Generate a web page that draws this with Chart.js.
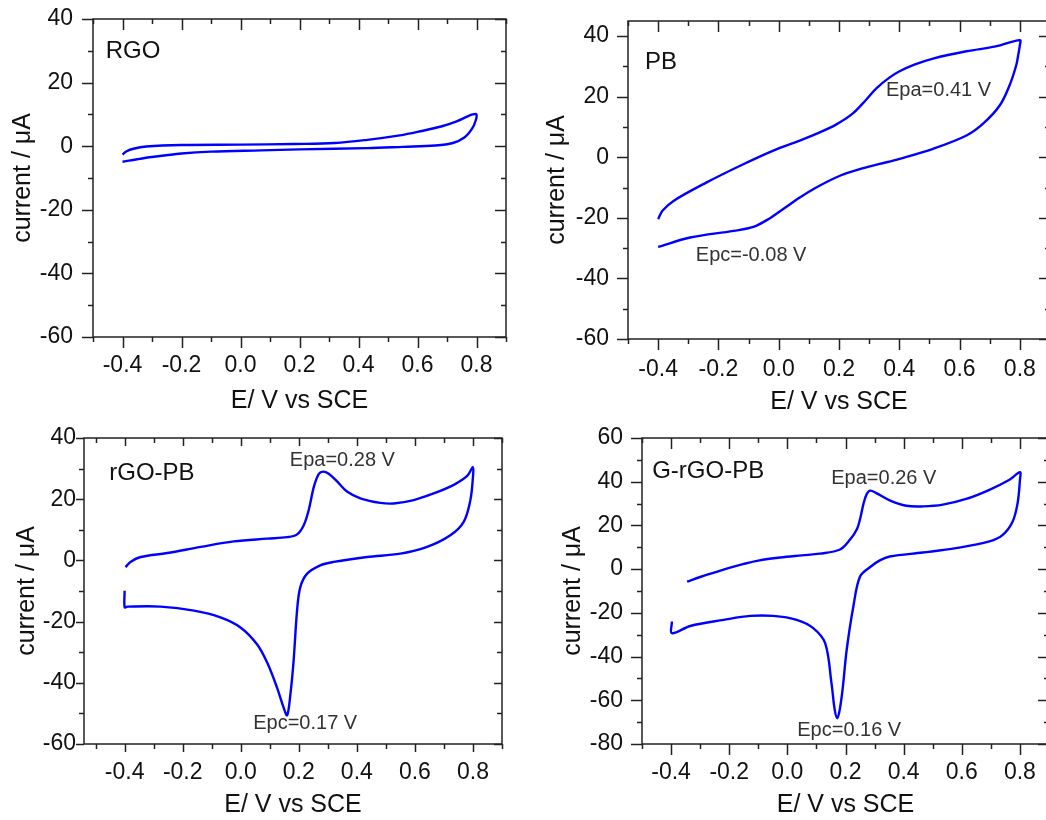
<!DOCTYPE html>
<html>
<head>
<meta charset="utf-8">
<script src="https://cdn.jsdelivr.net/npm/chart.js@4.4.0/dist/chart.umd.min.js"></script>
<style>
html, body { margin: 0; padding: 0; background: #fff; overflow: hidden; }
#wrap { position: relative; width: 1046px; height: 820px; overflow: hidden; }
#wrap canvas { position: absolute; }
</style>
</head>
<body>
<div id="wrap">
  <canvas id="c1" width="523" height="420" style="left:0;top:0"></canvas>
  <canvas id="c2" width="530" height="420" style="left:523px;top:0"></canvas>
  <canvas id="c3" width="523" height="410" style="left:0;top:410px"></canvas>
  <canvas id="c4" width="530" height="410" style="left:523px;top:410px"></canvas>
</div>
<script>
// tick labels
var xTicks = [-0.4, -0.2, 0, 0.2, 0.4, 0.6, 0.8];
var yTicksA = [40, 20, 0, -20, -40, -60];
var yTicksB = [60, 40, 20, 0, -20, -40, -60, -80];

// RGO
var rgoE = [-0.4, -0.386, -0.363, -0.32, -0.2, 0.0, 0.18, 0.32, 0.43, 0.54, 0.61, 0.68, 0.735, 0.77, 0.787, 0.8,
            0.797, 0.785, 0.76, 0.72, 0.66, 0.55, 0.43, 0.2, 0.07, -0.1, -0.2, -0.3, -0.35, -0.4];
var rgoI = [-2.6, -1.6, -0.8, -0.1, 0.4, 0.5, 0.7, 1.0, 2.0, 3.4, 4.7, 6.2, 7.9, 9.4, 10.0, 10.0,
            8.0, 5.5, 2.8, 1.0, 0.2, -0.2, -0.6, -1.0, -1.3, -1.7, -2.3, -3.4, -4.1, -4.9];

// PB
var pbE = [-0.4, -0.385, -0.349, -0.239, -0.128, -0.018, 0.07, 0.124, 0.19, 0.245, 0.29, 0.323, 0.367, 0.401, 0.45, 0.512, 0.623, 0.72, 0.8,
           0.8, 0.795, 0.788, 0.766, 0.733, 0.678, 0.623, 0.512, 0.401, 0.335, 0.269, 0.203, 0.126, 0.07, 0.015, -0.029, -0.084, -0.15, -0.294, -0.4];
var pbI = [-20.4, -17.6, -14.4, -8.3, -2.8, 2.2, 5.5, 7.7, 10.8, 14.4, 19.0, 22.7, 26.3, 28.4, 30.6, 32.6, 35.0, 36.6, 38.7,
           37.0, 34.0, 30.4, 23.8, 17.1, 11.1, 7.2, 2.8, -0.5, -2.2, -3.9, -6.1, -9.9, -13.3, -17.1, -20.1, -23.0, -24.3, -26.5, -29.6];

// rGO-PB
var rgoPbE = [-0.397, -0.38, -0.345, -0.253, -0.138, -0.024, 0.091, 0.16, 0.194, 0.217, 0.234, 0.252, 0.269, 0.284, 0.303, 0.332, 0.366, 0.412, 0.481, 0.527, 0.596, 0.665, 0.734, 0.78, 0.8,
              0.8, 0.791, 0.768, 0.722, 0.642, 0.55, 0.435, 0.32, 0.274, 0.228, 0.205, 0.194, 0.182, 0.171, 0.16, 0.148, 0.125, 0.091, 0.056, -0.001, -0.07, -0.161, -0.276, -0.39, -0.4, -0.4];
var rgoPbI = [-2.2, -0.5, 1.1, 2.4, 4.4, 6.2, 7.1, 7.6, 8.5, 11.5, 16.4, 24.1, 28.3, 29.0, 28.3, 25.8, 22.5, 20.3, 18.8, 18.6, 19.7, 21.9, 24.7, 27.6, 30.5,
              27.4, 19.7, 12.6, 8.2, 4.4, 2.2, 1.1, -0.5, -1.6, -4.4, -8.8, -16.4, -32.9, -43.8, -50.6, -48.2, -41.6, -33.4, -27.4, -21.9, -18.6, -16.4, -15.1, -15.1, -15.3, -9.9];

// G-rGO-PB
var grgoPbE = [-0.345, -0.3, -0.25, -0.2, -0.15, -0.1, -0.025, 0.05, 0.112, 0.181, 0.215, 0.24, 0.252, 0.262, 0.273, 0.285, 0.306, 0.352, 0.409, 0.466, 0.535, 0.615, 0.695, 0.764, 0.8,
               0.8, 0.792, 0.775, 0.741, 0.695, 0.58, 0.466, 0.352, 0.318, 0.285, 0.25, 0.227, 0.204, 0.19, 0.18, 0.172, 0.163, 0.152, 0.13, 0.089, 0.032, -0.048, -0.128, -0.219, -0.334, -0.397, -0.397];
var grgoPbI = [-5.7, -3.6, -1.5, 0.6, 2.4, 3.9, 5.3, 6.3, 7.1, 9.0, 13.4, 18.5, 24.0, 30.0, 34.3, 35.9, 34.8, 31.5, 29.0, 28.7, 29.5, 32.1, 36.3, 40.9, 44.3,
               40.9, 30.2, 21.8, 15.7, 12.7, 9.6, 7.6, 5.8, 4.0, 1.0, -3.4, -17.1, -37.0, -55.0, -64.4, -68.2, -64.4, -52.4, -33.9, -27.0, -23.2, -21.4, -21.4, -23.2, -26.0, -29.3, -24.0];

Chart.defaults.font.family = "'Liberation Sans', Arial, sans-serif";
Chart.defaults.color = '#111';

function pts(es, is) {
    var out = [];
    for (var i = 0; i < es.length; i++) out.push({x: es[i], y: is[i]});
    return out;
}

// frame, inward/outward ticks and in-plot text
var framePlugin = {
    id: 'frame',
    afterDraw: function(chart, args, o) {
        var ctx = chart.ctx, a = chart.chartArea, xs = chart.scales.x, ys = chart.scales.y;
        ctx.save();
        ctx.strokeStyle = '#222';
        ctx.lineWidth = 1.5;
        ctx.strokeRect(a.left, a.top, a.right - a.left, a.bottom - a.top);
        ctx.beginPath();
        for (var k = Math.ceil(xs.min * 10 - 1e-6); k <= Math.floor(xs.max * 10 + 1e-6); k++) {
            var px = Math.round(xs.getPixelForValue(k / 10)) + 0.5;
            var len = (k % 2 === 0) ? o.major : o.minor;
            ctx.moveTo(px, a.bottom); ctx.lineTo(px, a.bottom + len);
            ctx.moveTo(px, a.top); ctx.lineTo(px, a.top + len);
        }
        for (var v = Math.ceil(ys.min / 10) * 10; v <= ys.max; v += 10) {
            var py = Math.round(ys.getPixelForValue(v)) + 0.5;
            var len2 = (v % 20 === 0) ? o.major : o.minor;
            ctx.moveTo(a.left, py); ctx.lineTo(a.left - len2, py);
            ctx.moveTo(a.right, py); ctx.lineTo(a.right - len2, py);
        }
        ctx.stroke();
        ctx.textBaseline = 'middle';
        ctx.textAlign = 'left';
        o.notes.forEach(function(n) {
            ctx.font = n.size + "px 'Liberation Sans', Arial, sans-serif";
            ctx.fillStyle = n.color;
            ctx.fillText(n.text, xs.getPixelForValue(n.x), ys.getPixelForValue(n.y));
        });
        ctx.restore();
    }
};

var panels = [
    {id: 'c1', W: 523, H: 420, area: {l: 93, t: 19, r: 506, b: 337}, xMin: -0.5, xMax: 0.9, yMin: -60, yMax: 40, yTicks: yTicksA,
     e: rgoE, i: rgoI, major: 11, minor: 5, yPad: 20, xPad: 15, xTitlePad: 4, yTitlePad: 8,
     notes: [{text: 'RGO', x: -0.457, y: 29.8, size: 24, color: '#111'}]},
    {id: 'c2', W: 530, H: 420, area: {l: 105, t: 21, r: 527, b: 339}, xMin: -0.5, xMax: 0.9, yMin: -60, yMax: 45, yTicks: yTicksA,
     e: pbE, i: pbI, major: 11, minor: 5, yPad: 19, xPad: 17, xTitlePad: 3, yTitlePad: 19,
     notes: [{text: 'PB', x: -0.444, y: 31.5, size: 24, color: '#111'},
             {text: 'Epa=0.41 V', x: 0.356, y: 21.9, size: 20, color: '#333'},
             {text: 'Epc=-0.08 V', x: -0.275, y: -32.3, size: 20, color: '#333'}]},
    {id: 'c3', W: 523, H: 410, area: {l: 84, t: 28, r: 502, b: 334}, xMin: -0.54, xMax: 0.9, yMin: -60, yMax: 40, yTicks: yTicksA,
     e: rgoPbE, i: rgoPbI, major: 8, minor: 5, yPad: 8, xPad: 15, xTitlePad: 0, yTitlePad: 12,
     notes: [{text: 'rGO-PB', x: -0.453, y: 28.5, size: 24, color: '#111'},
             {text: 'Epa=0.28 V', x: 0.169, y: 32.7, size: 20, color: '#333'},
             {text: 'Epc=0.17 V', x: 0.043, y: -53.4, size: 20, color: '#333'}]},
    {id: 'c4', W: 530, H: 410, area: {l: 119, t: 28, r: 526, b: 334}, xMin: -0.5, xMax: 0.9, yMin: -80, yMax: 60, yTicks: yTicksB,
     e: grgoPbE, i: grgoPbI, major: 11, minor: 5, yPad: 19, xPad: 15, xTitlePad: 0, yTitlePad: 35,
     notes: [{text: 'G-rGO-PB', x: -0.465, y: 44.7, size: 24, color: '#111'},
             {text: 'Epa=0.26 V', x: 0.151, y: 41.7, size: 20, color: '#333'},
             {text: 'Epc=0.16 V', x: 0.034, y: -73.6, size: 20, color: '#333'}]}
];

panels.forEach(function(p) {
    new Chart(document.getElementById(p.id), {
        type: 'scatter',
        data: {
            datasets: [{
                data: pts(p.e, p.i),
                showLine: true,
                borderColor: '#0000ff',
                borderWidth: 2.4,
                pointRadius: 0,
                tension: 0.35
            }]
        },
        options: {
            responsive: false,
            animation: false,
            layout: {padding: {left: 0, top: p.area.t, right: p.W - p.area.r, bottom: 0}},
            plugins: {
                legend: {display: false},
                tooltip: {enabled: false},
                frame: {major: p.major, minor: p.minor, notes: p.notes}
            },
            scales: {
                x: {
                    type: 'linear', min: p.xMin, max: p.xMax,
                    afterBuildTicks: function(s) { s.ticks = xTicks.map(function(v) { return {value: v}; }); },
                    afterFit: function(s) { s.height = p.H - p.area.b; s.paddingLeft = 0; s.paddingRight = 0; },
                    grid: {display: false, drawTicks: false},
                    border: {display: false},
                    ticks: {padding: p.xPad, maxRotation: 0, autoSkip: false, font: {size: 23},
                            callback: function(v) { return v.toFixed(1); }},
                    title: {display: true, text: 'E/ V vs SCE', font: {size: 25}, padding: {top: 0, bottom: p.xTitlePad}}
                },
                y: {
                    type: 'linear', min: p.yMin, max: p.yMax,
                    afterBuildTicks: function(s) { s.ticks = p.yTicks.map(function(v) { return {value: v}; }); },
                    afterFit: function(s) { s.width = p.area.l; s.paddingTop = 0; s.paddingBottom = 0; },
                    grid: {display: false, drawTicks: false},
                    border: {display: false},
                    ticks: {padding: p.yPad, autoSkip: false, font: {size: 23},
                            callback: function(v) { return String(v); }},
                    title: {display: true, text: 'current / μA', font: {size: 25}, padding: {top: p.yTitlePad, bottom: 0}}
                }
            }
        },
        plugins: [framePlugin]
    });
});
</script>
</body>
</html>
